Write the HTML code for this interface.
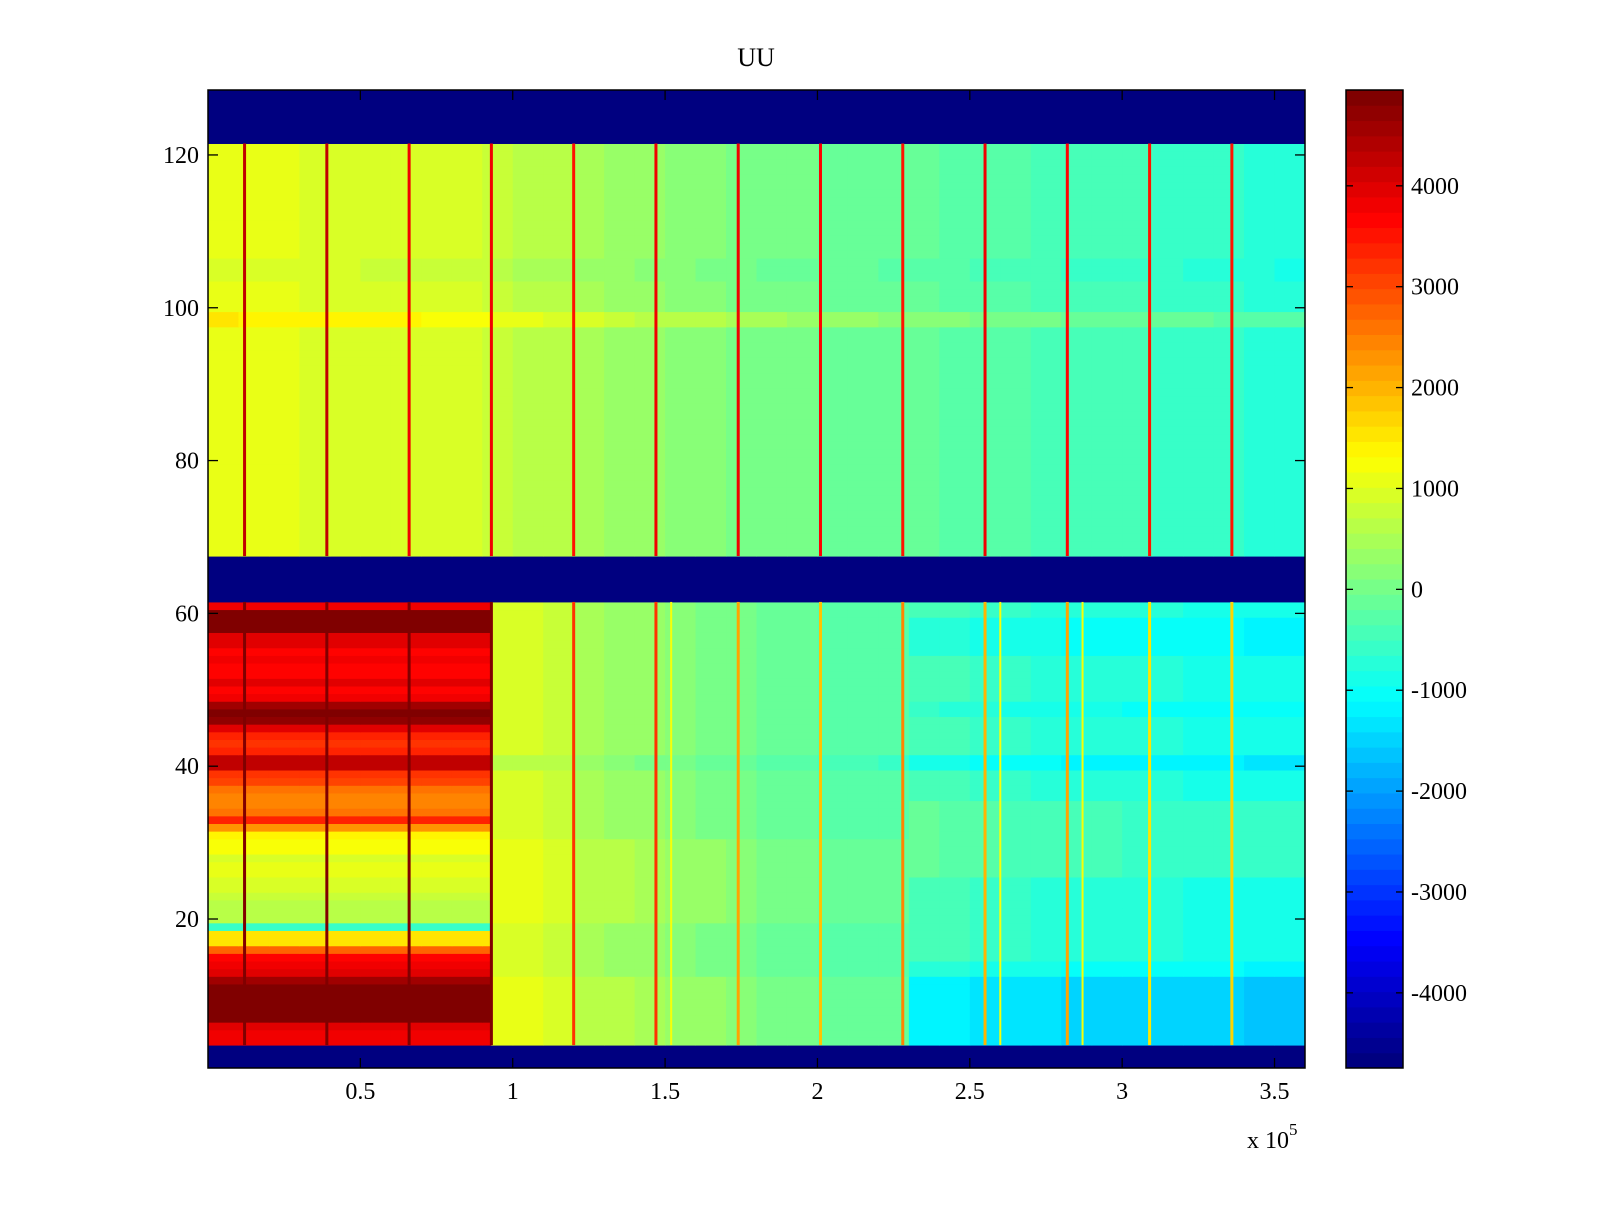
<!DOCTYPE html>
<html><head><meta charset="utf-8"><style>
html,body{margin:0;padding:0;background:#fff;}
svg text{font-family:"Liberation Serif",serif;fill:#000;}
</style></head><body>
<svg id="chart" width="1600" height="1200" viewBox="0 0 1600 1200" xmlns="http://www.w3.org/2000/svg">
<rect width="1600" height="1200" fill="#fff"/>
<text x="756" y="66" font-size="26" text-anchor="middle">UU</text>
<g id="cells"></g>
<g id="spikes"></g>
<g id="axes"></g>
<g id="cbar"></g>
</svg>
<script>
// ---- data ----
const colEdges = [0,0.1,0.2,0.3,0.4,0.5,0.6,0.7,0.8,0.9,0.93,1.0,1.1,1.2,1.3,1.4,1.5,1.6,1.7,1.8,1.9,2.0,2.1,2.2,2.3,2.4,2.5,2.6,2.7,2.8,2.9,3.0,3.1,3.2,3.3,3.4,3.5,3.6];
const upperColVals = [1100,1050,1050,1000,1000,950,950,900,900,850,750,650,600,500,400,300,250,200,100,50,0,-50,-100,-150,-200,-250,-300,-350,-400,-450,-500,-500,-550,-600,-650,-700,-750];
const lowerColVals = [null,null,null,null,null,null,null,null,null,null,900,900,800,500,400,300,200,100,0,-100,-150,-250,-300,-350,-450,-500,-600,-650,-700,-750,-750,-800,-800,-850,-850,-900,-900];
// rows 4..61, left section (x < 0.93e5)
const lowerLeftRowVals = [3800,3800,3900,4950,4950,4950,4950,4950,4500,3900,3800,3700,2800,1500,1500,-600,700,600,700,800,900,1000,1100,1100,1000,1200,1300,1400,2300,3300,2600,2500,2400,2600,3000,3200,4200,4300,3300,3200,3400,4000,4700,4800,4600,3800,3600,3900,3700,3600,3800,3700,3900,4000,4950,4950,4950,3800];
// row bands [fromRow, toRow, offset]
const upperBands = [[98,99,400],[104,106,-100]];
const lowerBandsMid = [[4,12,200],[20,30,200],[40,41,-200]];
const lowerBandsRight = [[4,12,-700],[13,14,-250],[26,35,250],[40,41,-400],[47,48,-200],[55,59,-250]];
const bandSplitX = 2.3;
const blankRows = [[1,3],[62,67],[122,128]];
const spikeX = [0.12,0.39,0.66,0.93,1.20,1.47,1.74,2.01,2.28,2.55,2.82,3.09,3.36];
const spikeUpperVals = [4200,4300,3800,3800,3500,3800,3800,3600,3500,3800,3600,3500,3500];
const spikeLowerVals = [4950,4950,4950,4950,3200,3200,2200,1800,2500,2000,2200,1600,1700];
const minorSpikeX = [1.52,2.60,2.87];
const minorSpikeVals = [1300,1300,1200];
const yTicks = [20,40,60,80,100,120];
const xTicks = [0.5,1,1.5,2,2.5,3,3.5];
const xTickLabels = ["0.5","1","1.5","2","2.5","3","3.5"];
const cTicks = [4000,3000,2000,1000,0,-1000,-2000,-3000,-4000];
// ---- scales ----
const L=208,R=1305,T=90,B=1068;
const xMin=0,xMax=3.6,yMin=0.5,yMax=128.5,cMin=-4745,cMax=4950;
const sx=v=>L+(v-xMin)/(xMax-xMin)*(R-L);
const sy=v=>B-(v-yMin)/(yMax-yMin)*(B-T);
function jet(v){
  let t=(v-cMin)/(cMax-cMin); t=Math.max(0,Math.min(1,t));
  let i=Math.min(63,Math.floor(t*64)); t=i/63;
  const c=x=>Math.round(255*Math.max(0,Math.min(1,1.5-Math.abs(x))));
  return `rgb(${c(4*t-3)},${c(4*t-2)},${c(4*t-1)})`;
}
const NS="http://www.w3.org/2000/svg";
function mk(tag,attrs,parent){const e=document.createElementNS(NS,tag);for(const k in attrs)e.setAttribute(k,attrs[k]);parent.appendChild(e);return e;}
function bandOff(bands,r){let o=0;for(const b of bands)if(r>=b[0]&&r<=b[1])o+=b[2];return o;}
function isBlank(r){return blankRows.some(b=>r>=b[0]&&r<=b[1]);}
const cells=document.getElementById('cells');
for(let r=1;r<=128;r++){
  const y0=sy(r+0.5),y1=sy(r-0.5);
  if(isBlank(r)){
    const e=mk('rect',{x:L,y:y0,width:R-L,height:y1-y0+0.5,fill:jet(cMin)},cells);
    
    
    continue;
  }
  for(let c=0;c<colEdges.length-1;c++){
    let v;
    const xm=(colEdges[c]+colEdges[c+1])/2;
    if(r>=68){v=upperColVals[c]+bandOff(upperBands,r);}
    else if(lowerColVals[c]===null){v=lowerLeftRowVals[r-4];}
    else{v=lowerColVals[c]+bandOff(xm<bandSplitX?lowerBandsMid:lowerBandsRight,r);}
    const x0=sx(colEdges[c]),x1=sx(colEdges[c+1]);
    const e=mk('rect',{x:x0,y:y0,width:x1-x0+0.5,height:y1-y0+0.5,fill:jet(v)},cells);
    
    
  }
}
const sp=document.getElementById('spikes');
spikeX.forEach((x,i)=>{
  const a=mk('rect',{x:sx(x)-1.5,y:sy(121.5),width:3,height:sy(67.5)-sy(121.5),fill:jet(spikeUpperVals[i])},sp);
  
  
  const b=mk('rect',{x:sx(x)-1.5,y:sy(61.5),width:3,height:sy(3.5)-sy(61.5),fill:jet(spikeLowerVals[i])},sp);
  
  
});
minorSpikeX.forEach((x,i)=>{
  const b=mk('rect',{x:sx(x)-1,y:sy(61.5),width:2,height:sy(3.5)-sy(61.5),fill:jet(minorSpikeVals[i])},sp);
  
  
});
// axes
const ax=document.getElementById('axes');
const fr=mk('rect',{x:L,y:T,width:R-L,height:B-T,fill:'none',stroke:'#000','stroke-width':1.5},ax);


yTicks.forEach(v=>{
  const y=sy(v);
  mk('line',{x1:L,x2:L+10,y1:y,y2:y,stroke:'#000','stroke-width':1.3},ax);
  mk('line',{x1:R-10,x2:R,y1:y,y2:y,stroke:'#000','stroke-width':1.3},ax);
  const t=mk('text',{x:L-9,y:y+8,'font-size':24,'text-anchor':'end'},ax);
  t.textContent=v;
  
  
});
xTicks.forEach((v,i)=>{
  const x=sx(v);
  mk('line',{x1:x,x2:x,y1:B,y2:B-10,stroke:'#000','stroke-width':1.3},ax);
  mk('line',{x1:x,x2:x,y1:T,y2:T+10,stroke:'#000','stroke-width':1.3},ax);
  const t=mk('text',{x:x,y:B+31,'font-size':24,'text-anchor':'middle'},ax);
  t.textContent=xTickLabels[i];
  
  
});
const ex=mk('text',{x:1247,y:1148,'font-size':24},ax);
ex.innerHTML='x 10<tspan dy="-13" font-size="17">5</tspan>';


// colorbar
const cb=document.getElementById('cbar');
const CL=1346,CR=1403;
const cy=v=>B-(v-cMin)/(cMax-cMin)*(B-T);
for(let i=0;i<64;i++){
  const v0=cMin+i*(cMax-cMin)/64,v1=cMin+(i+1)*(cMax-cMin)/64;
  const e=mk('rect',{x:CL,y:cy(v1),width:CR-CL,height:cy(v0)-cy(v1)+0.5,fill:jet((v0+v1)/2)},cb);
  
  
}
mk('rect',{x:CL,y:T,width:CR-CL,height:B-T,fill:'none',stroke:'#000','stroke-width':1.5},cb);
cTicks.forEach(v=>{
  const y=cy(v);
  mk('line',{x1:CL,x2:CL+7,y1:y,y2:y,stroke:'#000','stroke-width':1.3},cb);
  mk('line',{x1:CR-7,x2:CR,y1:y,y2:y,stroke:'#000','stroke-width':1.3},cb);
  const t=mk('text',{x:CR+8,y:y+8,'font-size':24},cb);
  t.textContent=v;
  
  
});
</script>
</body></html>
